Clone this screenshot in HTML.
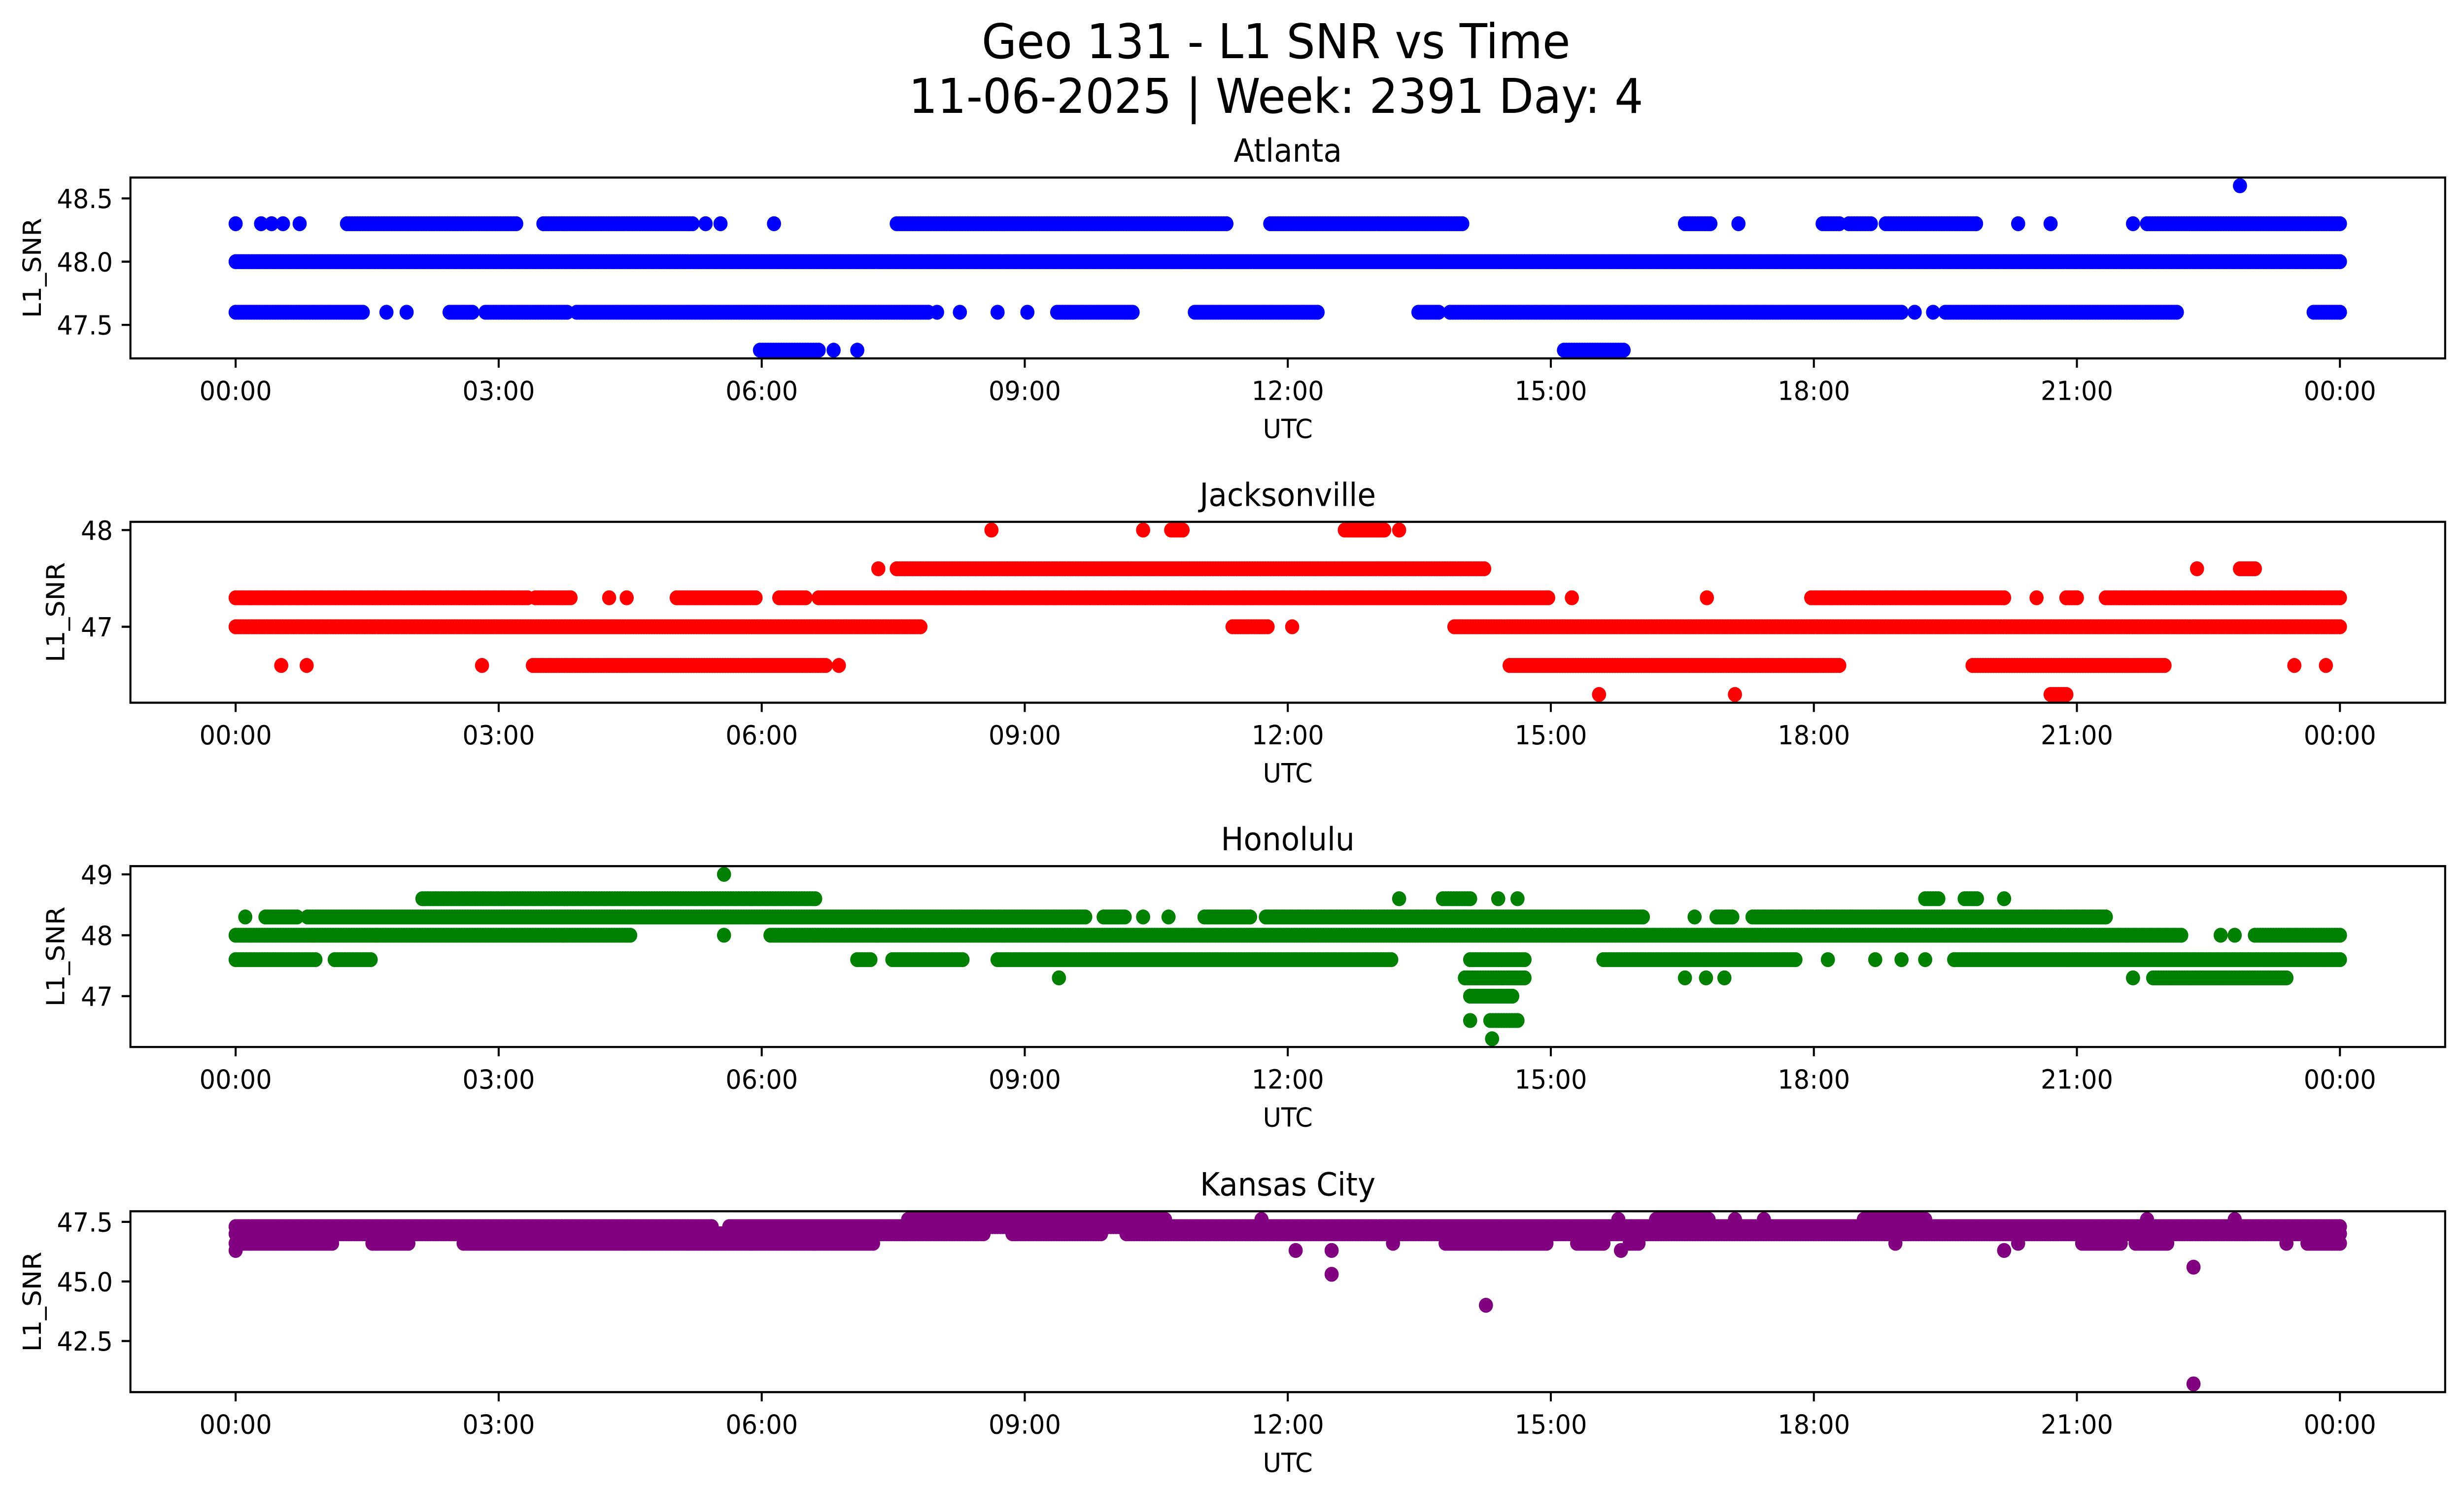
<!DOCTYPE html>
<html><head><meta charset="utf-8">
<style>
html,body{margin:0;padding:0;background:#fff;width:100%;height:100%;overflow:hidden;}
svg{display:block;position:fixed;left:0;top:0;width:100vw;height:100vh;}
text{font-family:"DejaVu Sans","Liberation Sans",sans-serif;fill:#000;}
</style></head>
<body>
<svg id="fig" xmlns="http://www.w3.org/2000/svg" viewBox="0 0 1568 901" preserveAspectRatio="none">
<rect x="0" y="0" width="1568" height="901" fill="#fff"/>
<text x="812" y="35" font-size="28.8" text-anchor="middle">Geo 131 - L1 SNR vs Time</text>
<text x="812" y="68" font-size="28.8" text-anchor="middle">11-06-2025 | Week: 2391 Day: 4</text>
<g id="panels"></g>
</svg>
<script>
// x tick labels (hours)
const xTickHours = [0,3,6,9,12,15,18,21,24];
const xTickLabels = ["00:00","03:00","06:00","09:00","12:00","15:00","18:00","21:00","00:00"];
// station names
const stations = ["Atlanta","Jacksonville","Honolulu","Kansas City"];
// y ticks per station
const atlTicks = [47.5,48.0,48.5];
const jaxTicks = [47,48];
const hnlTicks = [47,48,49];
const kcTicks = [42.5,45.0,47.5];
const atlTickLabels = ["47.5","48.0","48.5"];
const jaxTickLabels = ["47","48"];
const hnlTickLabels = ["47","48","49"];
const kcTickLabels = ["42.5","45.0","47.5"];
// runs: [startHour, endHour, SNR]
const atlRuns = [
[0,24,48.0],
[0,0,48.3],[0.29,0.29,48.3],[0.41,0.41,48.3],[0.54,0.54,48.3],[0.73,0.73,48.3],
[1.27,3.2,48.3],[3.51,5.21,48.3],[5.36,5.36,48.3],[5.53,5.53,48.3],[6.14,6.14,48.3],
[7.54,11.3,48.3],[11.8,13.99,48.3],[16.53,16.82,48.3],[17.14,17.14,48.3],[18.1,18.29,48.3],
[18.4,18.65,48.3],[18.82,19.85,48.3],[20.33,20.33,48.3],[20.7,20.7,48.3],[21.64,21.64,48.3],[21.8,24,48.3],
[0,1.45,47.6],[1.72,1.72,47.6],[1.95,1.95,47.6],[2.44,2.7,47.6],[2.85,3.78,47.6],[3.89,7.9,47.6],
[8.0,8.0,47.6],[8.26,8.26,47.6],[8.69,8.69,47.6],[9.03,9.03,47.6],[9.37,10.23,47.6],[10.94,12.34,47.6],
[13.49,13.72,47.6],[13.85,19.0,47.6],[19.15,19.15,47.6],[19.36,19.36,47.6],[19.5,22.14,47.6],[23.7,24,47.6],
[5.98,6.65,47.3],[6.82,6.82,47.3],[7.09,7.09,47.3],[15.15,15.83,47.3],
[22.86,22.86,48.6]
];
const jaxRuns = [
[8.62,8.62,48.0],[10.35,10.35,48.0],[10.67,10.8,48.0],[12.65,13.1,48.0],[13.27,13.27,48.0],
[7.33,7.33,47.6],[7.54,14.24,47.6],[22.37,22.37,47.6],[22.86,23.03,47.6],
[0,3.33,47.3],[3.42,3.82,47.3],[4.26,4.26,47.3],[4.46,4.46,47.3],[5.03,5.93,47.3],[6.2,6.5,47.3],
[6.65,14.97,47.3],[15.24,15.24,47.3],[16.78,16.78,47.3],[17.97,20.17,47.3],[20.54,20.54,47.3],
[20.88,21.0,47.3],[21.33,24,47.3],
[0,7.81,47.0],[11.37,11.77,47.0],[12.05,12.05,47.0],[13.9,24,47.0],
[0.52,0.52,46.6],[0.81,0.81,46.6],[2.81,2.81,46.6],[3.39,6.73,46.6],[6.88,6.88,46.6],
[14.53,18.29,46.6],[19.81,22.0,46.6],[23.48,23.48,46.6],[23.84,23.84,46.6],
[15.55,15.55,46.3],[17.1,17.1,46.3],[20.7,20.88,46.3]
];
const hnlRuns = [
[5.57,5.57,49.0],
[2.13,6.61,48.6],[13.27,13.27,48.6],[13.77,14.08,48.6],[14.4,14.4,48.6],[14.62,14.62,48.6],
[19.27,19.42,48.6],[19.72,19.86,48.6],[20.17,20.17,48.6],
[0.11,0.11,48.3],[0.34,0.7,48.3],[0.82,9.69,48.3],[9.9,10.14,48.3],[10.35,10.35,48.3],[10.64,10.64,48.3],
[11.05,11.57,48.3],[11.75,16.05,48.3],[16.64,16.64,48.3],[16.89,17.07,48.3],[17.3,21.33,48.3],
[0,4.5,48.0],[5.57,5.57,48.0],[6.1,22.19,48.0],[22.64,22.64,48.0],[22.8,22.8,48.0],[23.03,24,48.0],
[0,0.91,47.6],[1.13,1.54,47.6],[7.09,7.24,47.6],[7.49,8.29,47.6],[8.69,13.18,47.6],[14.08,14.7,47.6],
[15.6,17.79,47.6],[18.16,18.16,47.6],[18.7,18.7,47.6],[19.0,19.0,47.6],[19.27,19.27,47.6],[19.6,24,47.6],
[9.39,9.39,47.3],[14.02,14.7,47.3],[16.53,16.53,47.3],[16.77,16.77,47.3],[16.98,16.98,47.3],
[21.64,21.64,47.3],[21.87,23.39,47.3],
[14.08,14.56,47.0],
[14.08,14.08,46.6],[14.31,14.62,46.6],
[14.33,14.33,46.3]
];
const kcRuns = [
[0,5.43,47.3],[5.63,24,47.3],
[0,8.53,47.0],[8.86,9.87,47.0],[10.16,24,47.0],
[7.67,10.6,47.6],[11.7,11.7,47.6],[15.77,15.77,47.6],[16.2,16.8,47.6],[17.1,17.1,47.6],[17.43,17.43,47.6],
[18.57,19.27,47.6],[21.8,21.8,47.6],[22.8,22.8,47.6],
[0,1.1,46.6],[1.56,1.97,46.6],[2.6,7.27,46.6],[13.2,13.2,46.6],[13.8,14.95,46.6],[15.3,15.6,46.6],
[15.9,16.0,46.6],[18.93,18.93,46.6],[20.33,20.33,46.6],[21.06,21.5,46.6],[21.67,22.03,46.6],
[23.39,23.39,46.6],[23.63,24,46.6],
[0,0,46.3],[12.09,12.09,46.3],[12.5,12.5,46.3],[15.8,15.8,46.3],[20.17,20.17,46.3],
[12.5,12.5,45.3],[14.26,14.26,44.0],[22.33,22.33,45.6],[22.33,22.33,40.7]
];

const NS = "http://www.w3.org/2000/svg";
const panelTops = [107,314.5,522,730];
const PH = 109;
const PL = 83, PR = 1556;
const xMin = -1.2, xMax = 25.2;
const colors = ["#0000ff","#ff0000","#008000","#800080"];
const allRuns = [atlRuns,jaxRuns,hnlRuns,kcRuns];
const allTicks = [atlTicks,jaxTicks,hnlTicks,kcTicks];
const allTickLabels = [atlTickLabels,jaxTickLabels,hnlTickLabels,kcTickLabels];
const ylabelX = [26,41,41,26];
const names = ["atlanta","jacksonville","honolulu","kansas-city"];

function xScale(h){ return PL + (h - xMin) / (xMax - xMin) * (PR - PL); }
function mk(tag, attrs, parent){
  const e = document.createElementNS(NS, tag);
  for (const k in attrs) e.setAttribute(k, attrs[k]);
  parent.appendChild(e);
  return e;
}
const root = document.getElementById("panels");
for (let p = 0; p < 4; p++){
  const top = panelTops[p], bot = top + PH;
  const runs = allRuns[p];
  let vmin = Infinity, vmax = -Infinity;
  runs.forEach(r => { vmin = Math.min(vmin, r[2]); vmax = Math.max(vmax, r[2]); });
  const pad = (vmax - vmin) * 0.05;
  const y0 = vmin - pad, y1 = vmax + pad;
  const yScale = v => bot - (v - y0) / (y1 - y0) * PH;

  const g = mk("g", {}, root);
  
  

  const title = mk("text", {x:(PL+PR)/2, y: top - 9.5, "font-size":19.2, "text-anchor":"middle"}, g);
  title.textContent = stations[p];
  
  

  const clipId = "clip" + p;
  const cp = mk("clipPath", {id: clipId}, g);
  mk("rect", {x:PL, y:top, width:PR-PL, height:PH}, cp);

  const series = mk("g", {"clip-path":"url(#"+clipId+")", fill: colors[p]}, g);
  
  
  runs.forEach(r => {
    const step = 0.03;
    const n = Math.max(0, Math.round((r[1]-r[0])/step));
    for (let i = 0; i <= n; i++){
      const t = n === 0 ? r[0] : r[0] + (r[1]-r[0]) * i / n;
      const c = mk("circle", {cx: xScale(t).toFixed(2), cy: yScale(r[2]).toFixed(2), r: 4.5}, series);
      
      
    }
  });

  const frame = mk("rect", {x:PL, y:top, width:PR-PL, height:PH, fill:"none", stroke:"#000", "stroke-width":1.28}, g);
  
  

  xTickHours.forEach((h,i) => {
    const x = xScale(h);
    const tk = mk("line", {x1:x, x2:x, y1:bot, y2:bot+5.6, stroke:"#000", "stroke-width":1.28}, g);
    
    
    const tl = mk("text", {x:x, y:bot+25, "font-size":16, "text-anchor":"middle"}, g);
    tl.textContent = xTickLabels[i];
    
    
  });
  const xl = mk("text", {x:xScale(12), y:bot+48, "font-size":16, "text-anchor":"middle"}, g);
  xl.textContent = "UTC";
  
  

  allTicks[p].forEach((v,i) => {
    const y = yScale(v);
    const tk = mk("line", {x1:PL-5.6, x2:PL, y1:y, y2:y, stroke:"#000", "stroke-width":1.28}, g);
    
    
    const tl = mk("text", {x:PL-11.2, y:y+5.8, "font-size":16, "text-anchor":"end"}, g);
    tl.textContent = allTickLabels[p][i];
    
    
  });
  const yl = mk("text", {x:ylabelX[p], y:(top+bot)/2, "font-size":16, "text-anchor":"middle",
    transform:"rotate(-90 "+ylabelX[p]+" "+((top+bot)/2)+")"}, g);
  yl.textContent = "L1_SNR";
  
  
}
</script>
</body></html>
